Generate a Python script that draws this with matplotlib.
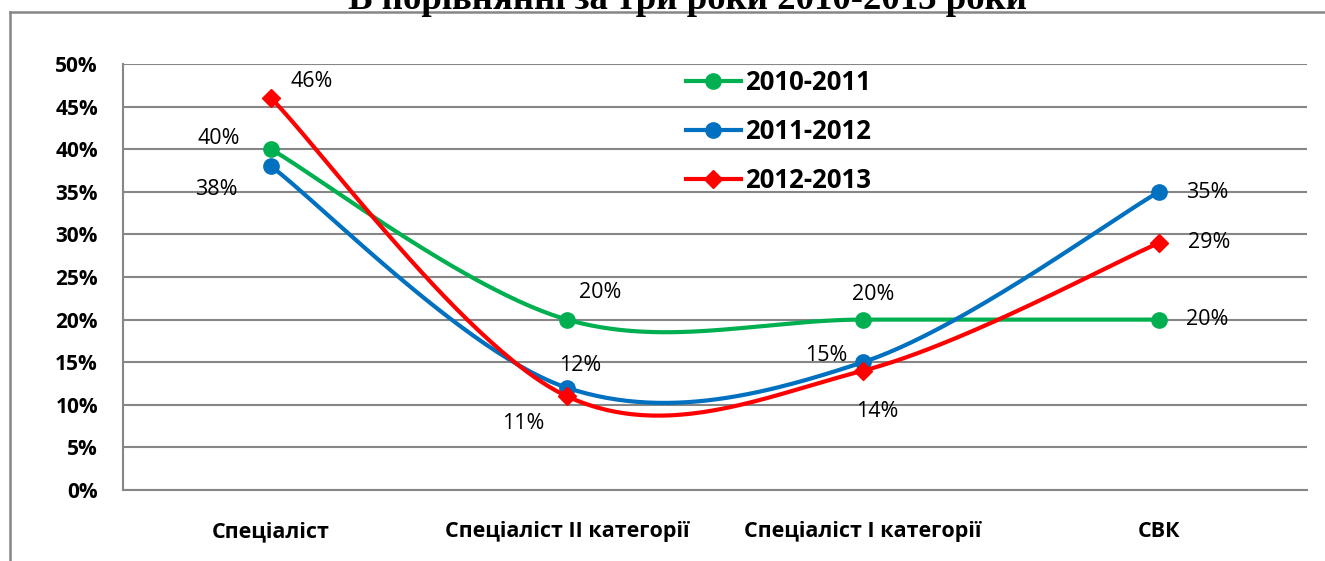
import numpy as np
import matplotlib
matplotlib.use("Agg")
import matplotlib.pyplot as plt
from matplotlib.lines import Line2D


categories = ["Спеціаліст", "Спеціаліст ІІ категорії", "Спеціаліст І категорії", "СВК"]
series_names = ["2010-2011", "2011-2012", "2012-2013"]
values_2010 = [40, 20, 20, 20]
values_2011 = [38, 12, 15, 35]
values_2012 = [46, 11, 14, 29]
y_ticks = [0, 5, 10, 15, 20, 25, 30, 35, 40, 45, 50]
title_text = "В порівнянні за три роки 2010-2013 роки"

colors = ["#00B050", "#0070C0", "#FF0000"]
markers = ["o", "o", "D"]
marker_sizes = [11, 11, 9.5]

# label offsets in pixels (dx, dy) for each point
label_offsets = [
    [(-52, 11), (33, 27), (10, 25), (48, 0)],
    [(-55, -23), (13, 22), (-37, 7), (48, -1)],
    [(41, 17), (-44, -27), (14, -41), (50, 0)],
]


def smooth_curve(x, y, steps=60):
    # Excel-like smoothed line (Catmull-Rom as cubic Bezier)
    x = np.asarray(x, dtype=float)
    y = np.asarray(y, dtype=float)
    px = np.concatenate([[x[0]], x, [x[-1]]])
    py = np.concatenate([[y[0]], y, [y[-1]]])
    out_x, out_y = [], []
    t = np.linspace(0, 1, steps)
    for i in range(1, len(px) - 2):
        p0 = np.array([px[i], py[i]])
        p3 = np.array([px[i + 1], py[i + 1]])
        c1 = p0 + (np.array([px[i + 1], py[i + 1]]) - np.array([px[i - 1], py[i - 1]])) / 6
        c2 = p3 - (np.array([px[i + 2], py[i + 2]]) - np.array([px[i], py[i]])) / 6
        b = ((1 - t) ** 3)[:, None] * p0 + (3 * (1 - t) ** 2 * t)[:, None] * c1 \
            + (3 * (1 - t) * t ** 2)[:, None] * c2 + (t ** 3)[:, None] * p3
        out_x.extend(b[:, 0])
        out_y.extend(b[:, 1])
    return out_x, out_y


fig = plt.figure(figsize=(13.25, 5.61), dpi=100)
ax = fig.add_axes([123 / 1325, 1 - 490 / 561, (1307 - 123) / 1325, (490 - 64) / 561])

x_pos = np.arange(len(categories)) + 0.5
all_values = [values_2010, values_2011, values_2012]

for k, vals in enumerate(all_values):
    sx, sy = smooth_curve(x_pos, vals)
    ax.plot(sx, sy, color=colors[k], linewidth=3.0, zorder=3 + k,
            solid_capstyle="round")
    ax.plot(x_pos, vals, linestyle="none", marker=markers[k],
            markersize=marker_sizes[k], color=colors[k], zorder=3 + k)
    for i, v in enumerate(vals):
        dx, dy = label_offsets[k][i]
        ax.annotate(f"{v}%", (x_pos[i], v), xytext=(dx, dy),
                    textcoords="offset pixels", ha="center", va="center",
                    fontsize=15.5, family="Open Sans", color="black", zorder=10)

ax.set_xlim(0, len(categories))
ax.set_ylim(0, 50)
ax.set_yticks(y_ticks)
ax.set_yticklabels([f"{t}%" for t in y_ticks], fontsize=15,
                   fontweight="bold", family="Open Sans")
ax.set_xticks(x_pos)
ax.set_xticklabels(categories, fontsize=15.5, fontweight="bold",
                   family="Open Sans")
ax.tick_params(axis="y", length=0, pad=18)
ax.tick_params(axis="x", length=0, pad=22.5)

ax.grid(axis="y", color="#868686", linewidth=1.5)
ax.set_axisbelow(True)
for side in ["top", "right"]:
    ax.spines[side].set_visible(False)
for side in ["left", "bottom"]:
    ax.spines[side].set_color("#868686")
    ax.spines[side].set_linewidth(1.5)

handles = [
    Line2D([], [], color=colors[k], linewidth=3.0, marker=markers[k],
           markersize=marker_sizes[k])
    for k in range(3)
]
ax.legend(handles, series_names, loc="upper left",
          bbox_to_anchor=(0.473, 0.995), frameon=False,
          prop={"family": "Open Sans", "weight": "bold", "size": 18.5},
          handlelength=2.15, handletextpad=0.15, labelspacing=0.86,
          borderaxespad=0, borderpad=0.1)

# outer chart frame (partly cut off)
fig.add_artist(Line2D([10 / 1325, 1.0], [1 - 12 / 561, 1 - 12 / 561],
                      color="#868686", linewidth=1.8, transform=fig.transFigure))
fig.add_artist(Line2D([10 / 1325, 10 / 1325], [0.0, 1 - 12 / 561],
                      color="#868686", linewidth=1.8, transform=fig.transFigure))

fig.text(688 / 1325, 1 - 9 / 561, title_text, ha="center", va="baseline",
         fontsize=26.5, fontweight="bold", family="Liberation Serif")

fig.savefig("out.png", dpi=100, facecolor="white")
